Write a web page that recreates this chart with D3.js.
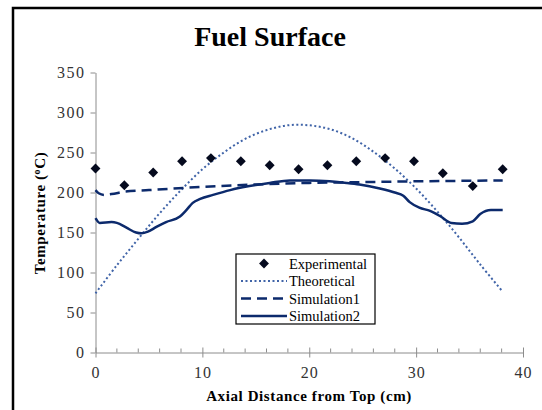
<!DOCTYPE html>
<html>
<head>
<meta charset="utf-8">
<script src="https://cdn.jsdelivr.net/npm/d3@7"></script>
<style>
    body { margin: 0; background: #fff; }
</style>
</head>
<body>
<div id="chart"></div>
<script>

// experimental points (diamonds)
let expX = [0, 2.7, 5.4, 8.1, 10.8, 13.6, 16.3, 19.0, 21.7, 24.4, 27.1, 29.8, 32.5, 35.3, 38.1];
let expY = [230, 209, 225, 239, 243, 239, 234, 229, 234, 239, 243, 239, 224, 208, 229];

// theoretical curve (dotted)
let theoX = [0, 2, 4, 6, 8, 10, 12, 14, 16, 18, 20, 22, 24, 26, 28, 30, 32, 34, 36, 38.1];
let theoY = [74, 109, 142, 174, 203, 229, 250, 267, 278, 284, 284, 279, 268, 251, 230, 205, 176, 144, 110, 76];

// simulation 1 (dashed)
let sim1X = [0, 0.3, 0.8, 1.5, 2.7, 5, 10, 15, 20, 25, 30, 38.1];
let sim1Y = [203, 199, 197, 198, 201, 203, 207, 210, 212, 213, 214, 215];

// simulation 2 (solid)
let sim2X = [0, 0.4, 1.5, 2.0, 2.9, 3.8, 4.3, 4.9, 5.7, 6.6, 7.9, 8.5, 9.1, 9.8, 11, 12.6, 14.4, 16.3, 18.2, 20.1, 21.9, 23.5, 24.7, 26.6, 28.0, 28.8, 29.4, 30.3, 31.3, 32.3, 33.3, 34.3, 35.3, 36.0, 37.0, 38.1];
let sim2Y = [168, 162, 163, 162, 156, 150, 149, 151, 157, 163, 170, 178, 187, 192, 197, 203, 208, 212, 215, 215, 214, 212, 210, 205, 200, 196, 188, 181, 177, 170, 162, 161, 164, 173, 178, 178];

let yTicks = [0, 50, 100, 150, 200, 250, 300, 350];
let xMajor = [0, 10, 20, 30, 40];
let xMinor = d3.range(0, 41, 2);

let legendNames = ['Experimental', 'Theoretical', 'Simulation1', 'Simulation2'];

let width = 542,
    height = 410,
    serif = "'Liberation Serif'",
    navy = '#0c2a6c',
    dotBlue = '#4064a8',
    axisGray = '#8c8c8c';

let svg = d3.select('#chart').append('svg')
    .attr('width', width)
    .attr('height', height);

// outer frame of the chart area
svg.append('rect')
    .attr('x', 13)
    .attr('y', 8)
    .attr('width', 600)
    .attr('height', 500)
    .style('fill', 'none')
    .style('stroke', '#000')
    .style('stroke-width', 2.5);

let x = d3.scaleLinear().domain([0, 40]).range([95.5, 523]),
    y = d3.scaleLinear().domain([0, 350]).range([352.5, 72.5]);

// title
svg.append('text')
    .attr('x', 270)
    .attr('y', 46)
    .attr('text-anchor', 'middle')
    .style('font-family', serif)
    .style('font-size', '28px')
    .style('font-weight', 'bold')
    .text('Fuel Surface');

// y axis
let yAxis = svg.append('g')
    .attr('transform', 'translate(' + x(0) + ',0)')
    .call(d3.axisLeft(y).tickValues(yTicks).tickSize(5).tickPadding(5).tickSizeOuter(0));

// x axis, major ticks cross the line, minor ticks go inside
let xAxis = svg.append('g')
    .attr('transform', 'translate(0,' + y(0) + ')')
    .call(d3.axisBottom(x).tickValues(xMajor).tickSize(5).tickPadding(9).tickSizeOuter(0));

xAxis.selectAll('.tick line').attr('y1', -5);

xAxis.selectAll('.minor')
    .data(xMinor.filter(function(d) { return d % 10 != 0; }))
    .enter()
    .append('line')
    .classed('minor', true)
    .attr('x1', function(d) { return x(d); })
    .attr('x2', function(d) { return x(d); })
    .attr('y1', -4)
    .attr('y2', 0);

[xAxis, yAxis].forEach(function(a) {
    a.select('.domain').style('stroke', axisGray);
    a.selectAll('line').style('stroke', axisGray);
    a.selectAll('text')
        .style('font-family', serif)
        .style('font-size', '16px')
        .style('fill', '#333');
});
yAxis.selectAll('text').style('letter-spacing', '1.5px');
xAxis.selectAll('text').style('letter-spacing', '1px');

// axis titles
svg.append('text')
    .attr('x', 309)
    .attr('y', 401)
    .attr('text-anchor', 'middle')
    .style('font-family', serif)
    .style('font-size', '15px')
    .style('font-weight', 'bold')
    .style('letter-spacing', '0.6px')
    .text('Axial Distance from Top  (cm)');

let yTitle = svg.append('text')
    .attr('transform', 'translate(45,213) rotate(-90)')
    .attr('text-anchor', 'middle')
    .style('font-family', serif)
    .style('font-size', '15px')
    .style('font-weight', 'bold')
    .style('letter-spacing', '0.6px');
yTitle.append('tspan').text('Temperature  (');
yTitle.append('tspan').attr('dy', -5).style('font-size', '10px').text('o');
yTitle.append('tspan').attr('dy', 5).text('C)');

function pairs(xs, ys) {
    return xs.map(function(d, i) { return [d, ys[i]]; });
}

let line = d3.line()
    .x(function(d) { return x(d[0]); })
    .y(function(d) { return y(d[1]); });

let plot = svg.append('g');

plot.append('path')
    .datum(pairs(theoX, theoY))
    .attr('d', line.curve(d3.curveCatmullRom))
    .style('fill', 'none')
    .style('stroke', dotBlue)
    .style('stroke-width', 2)
    .style('stroke-dasharray', '2,2.5');

plot.append('path')
    .datum(pairs(sim1X, sim1Y))
    .attr('d', line.curve(d3.curveMonotoneX))
    .style('fill', 'none')
    .style('stroke', navy)
    .style('stroke-width', 2.5)
    .style('stroke-dasharray', '10,6');

plot.append('path')
    .datum(pairs(sim2X, sim2Y))
    .attr('d', line.curve(d3.curveMonotoneX))
    .style('fill', 'none')
    .style('stroke', navy)
    .style('stroke-width', 2.5);

let diamond = d3.symbol().type(d3.symbolDiamond2).size(62);

plot.selectAll('.exp')
    .data(pairs(expX, expY))
    .enter()
    .append('path')
    .classed('exp', true)
    .attr('d', diamond)
    .attr('transform', function(d) { return 'translate(' + x(d[0]) + ',' + y(d[1]) + ')'; })
    .style('fill', '#050a1e');

// legend
let legend = svg.append('g').attr('transform', 'translate(236,254)');

legend.append('rect')
    .attr('width', 139)
    .attr('height', 70)
    .style('fill', '#fff')
    .style('stroke', '#000')
    .style('stroke-width', 1.2);

let rows = legend.selectAll('.row')
    .data(legendNames)
    .enter()
    .append('g')
    .classed('row', true)
    .attr('transform', function(d, i) { return 'translate(0,' + (9.5 + i * 17.5) + ')'; });

rows.each(function(d, i) {
    let g = d3.select(this);
    if (i == 0) {
        g.append('path')
            .attr('d', diamond)
            .attr('transform', 'translate(28,0)')
            .style('fill', '#050a1e');
    } else {
        g.append('line')
            .attr('x1', 5)
            .attr('x2', 51)
            .style('stroke', i == 1 ? dotBlue : navy)
            .style('stroke-width', i == 1 ? 2 : 2.5)
            .style('stroke-dasharray', i == 1 ? '2,2.5' : (i == 2 ? '10,6' : null));
    }
    g.append('text')
        .attr('x', 53)
        .attr('y', 5)
        .style('font-family', serif)
        .style('font-size', '14.5px')
        .text(d);
});

</script>
</body>
</html>
